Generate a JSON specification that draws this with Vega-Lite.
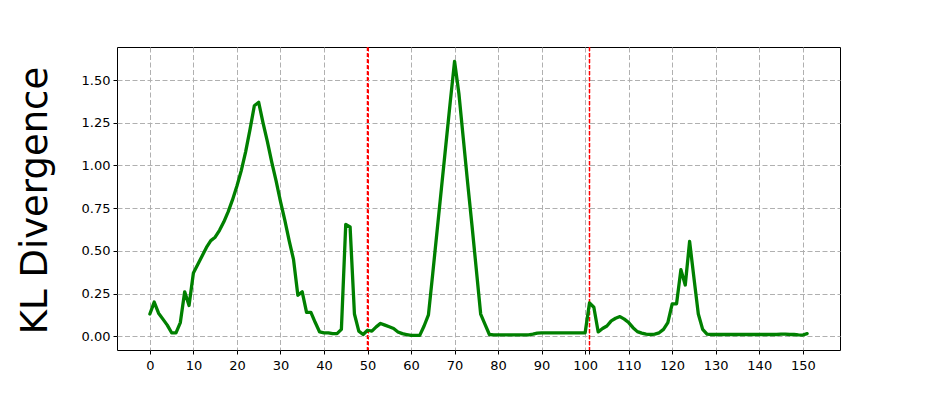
{
  "$schema": "https://vega.github.io/schema/vega-lite/v6.json",
  "width": 723,
  "height": 303,
  "autosize": {"type": "none"},
  "padding": {"left": 117, "top": 47, "right": 94, "bottom": 51},
  "background": "white",
  "config": {
    "view": {"stroke": "black", "strokeWidth": 1},
    "font": "DejaVu Sans",
    "axis": {
      "labelFont": "DejaVu Sans",
      "labelFontSize": 13,
      "labelColor": "black",
      "tickColor": "black",
      "tickSize": 4,
      "tickWidth": 1,
      "labelPadding": 3,
      "domain": false,
      "grid": true,
      "gridColor": "#b0b0b0",
      "gridDash": [5, 2.5],
      "gridWidth": 1
    }
  },
  "datasets": {
    "kl": [
      {"t": 0, "kl": 0.13}, {"t": 1, "kl": 0.2}, {"t": 2, "kl": 0.135}, {"t": 3, "kl": 0.1}, {"t": 4, "kl": 0.065},
      {"t": 5, "kl": 0.02}, {"t": 6, "kl": 0.02}, {"t": 7, "kl": 0.08}, {"t": 8, "kl": 0.26}, {"t": 9, "kl": 0.18},
      {"t": 10, "kl": 0.37}, {"t": 11, "kl": 0.42}, {"t": 12, "kl": 0.47}, {"t": 13, "kl": 0.52}, {"t": 14, "kl": 0.56},
      {"t": 15, "kl": 0.58}, {"t": 16, "kl": 0.62}, {"t": 17, "kl": 0.67}, {"t": 18, "kl": 0.73}, {"t": 19, "kl": 0.8},
      {"t": 20, "kl": 0.88}, {"t": 21, "kl": 0.97}, {"t": 22, "kl": 1.08}, {"t": 23, "kl": 1.21}, {"t": 24, "kl": 1.35},
      {"t": 25, "kl": 1.37}, {"t": 26, "kl": 1.25}, {"t": 27, "kl": 1.14}, {"t": 28, "kl": 1.02}, {"t": 29, "kl": 0.91},
      {"t": 30, "kl": 0.79}, {"t": 31, "kl": 0.68}, {"t": 32, "kl": 0.56}, {"t": 33, "kl": 0.45}, {"t": 34, "kl": 0.24},
      {"t": 35, "kl": 0.26}, {"t": 36, "kl": 0.14}, {"t": 37, "kl": 0.14}, {"t": 38, "kl": 0.08}, {"t": 39, "kl": 0.025},
      {"t": 40, "kl": 0.02}, {"t": 41, "kl": 0.02}, {"t": 42, "kl": 0.015}, {"t": 43, "kl": 0.015}, {"t": 44, "kl": 0.04},
      {"t": 45, "kl": 0.655}, {"t": 46, "kl": 0.64}, {"t": 47, "kl": 0.13}, {"t": 48, "kl": 0.03}, {"t": 49, "kl": 0.01},
      {"t": 50, "kl": 0.035}, {"t": 51, "kl": 0.03}, {"t": 52, "kl": 0.055}, {"t": 53, "kl": 0.075}, {"t": 54, "kl": 0.065},
      {"t": 55, "kl": 0.055}, {"t": 56, "kl": 0.045}, {"t": 57, "kl": 0.025}, {"t": 58, "kl": 0.015}, {"t": 59, "kl": 0.01},
      {"t": 60, "kl": 0.005}, {"t": 61, "kl": 0.005}, {"t": 62, "kl": 0.005}, {"t": 63, "kl": 0.06}, {"t": 64, "kl": 0.125},
      {"t": 65, "kl": 0.37}, {"t": 66, "kl": 0.62}, {"t": 67, "kl": 0.87}, {"t": 68, "kl": 1.12}, {"t": 69, "kl": 1.37},
      {"t": 70, "kl": 1.61}, {"t": 71, "kl": 1.42}, {"t": 72, "kl": 1.16}, {"t": 73, "kl": 0.9}, {"t": 74, "kl": 0.65},
      {"t": 75, "kl": 0.39}, {"t": 76, "kl": 0.13}, {"t": 77, "kl": 0.07}, {"t": 78, "kl": 0.01}, {"t": 79, "kl": 0.008},
      {"t": 80, "kl": 0.008}, {"t": 81, "kl": 0.008}, {"t": 82, "kl": 0.008}, {"t": 83, "kl": 0.008}, {"t": 84, "kl": 0.008},
      {"t": 85, "kl": 0.008}, {"t": 86, "kl": 0.008}, {"t": 87, "kl": 0.008}, {"t": 88, "kl": 0.012}, {"t": 89, "kl": 0.018},
      {"t": 90, "kl": 0.02}, {"t": 91, "kl": 0.02}, {"t": 92, "kl": 0.02}, {"t": 93, "kl": 0.02}, {"t": 94, "kl": 0.02},
      {"t": 95, "kl": 0.02}, {"t": 96, "kl": 0.02}, {"t": 97, "kl": 0.02}, {"t": 98, "kl": 0.02}, {"t": 99, "kl": 0.02},
      {"t": 100, "kl": 0.02}, {"t": 101, "kl": 0.195}, {"t": 102, "kl": 0.17}, {"t": 103, "kl": 0.025}, {"t": 104, "kl": 0.045},
      {"t": 105, "kl": 0.06}, {"t": 106, "kl": 0.09}, {"t": 107, "kl": 0.105}, {"t": 108, "kl": 0.115}, {"t": 109, "kl": 0.1},
      {"t": 110, "kl": 0.08}, {"t": 111, "kl": 0.05}, {"t": 112, "kl": 0.027}, {"t": 113, "kl": 0.018}, {"t": 114, "kl": 0.012},
      {"t": 115, "kl": 0.01}, {"t": 116, "kl": 0.012}, {"t": 117, "kl": 0.02}, {"t": 118, "kl": 0.04}, {"t": 119, "kl": 0.08},
      {"t": 120, "kl": 0.19}, {"t": 121, "kl": 0.19}, {"t": 122, "kl": 0.39}, {"t": 123, "kl": 0.3}, {"t": 124, "kl": 0.555},
      {"t": 125, "kl": 0.34}, {"t": 126, "kl": 0.13}, {"t": 127, "kl": 0.04}, {"t": 128, "kl": 0.012}, {"t": 129, "kl": 0.01},
      {"t": 130, "kl": 0.01}, {"t": 131, "kl": 0.01}, {"t": 132, "kl": 0.01}, {"t": 133, "kl": 0.01}, {"t": 134, "kl": 0.01},
      {"t": 135, "kl": 0.01}, {"t": 136, "kl": 0.01}, {"t": 137, "kl": 0.01}, {"t": 138, "kl": 0.01}, {"t": 139, "kl": 0.01},
      {"t": 140, "kl": 0.01}, {"t": 141, "kl": 0.01}, {"t": 142, "kl": 0.01}, {"t": 143, "kl": 0.01}, {"t": 144, "kl": 0.01},
      {"t": 145, "kl": 0.012}, {"t": 146, "kl": 0.012}, {"t": 147, "kl": 0.01}, {"t": 148, "kl": 0.01}, {"t": 149, "kl": 0.008},
      {"t": 150, "kl": 0.007}, {"t": 151, "kl": 0.015}
    ],
    "vlines": [{"t": 50}, {"t": 101}]
  },
  "layer": [
    {
      "data": {"name": "vlines"},
      "mark": {"type": "rule", "strokeWidth": 1.5, "strokeDash": [4, 2]},
      "encoding": {
        "x": {"field": "t", "type": "quantitative"},
        "color": {"value": "#ff0000"}
      }
    },
    {
      "data": {"name": "kl"},
      "mark": {"type": "line", "color": "#008000", "strokeWidth": 3.3, "strokeJoin": "round", "strokeCap": "round"},
      "encoding": {
        "x": {
          "field": "t", "type": "quantitative",
          "scale": {"domain": [-7.55, 158.55], "nice": false, "zero": false},
          "axis": {
            "title": null,
            "values": [0, 10, 20, 30, 40, 50, 60, 70, 80, 90, 100, 101, 110, 120, 130, 140, 150],
            "labelExpr": "datum.value == 101 ? '' : datum.label",
            "format": "d",
            "labelFlush": false,
            "labelOverlap": false,
            "labelPadding": 5,
            "gridColor": {"condition": {"test": "datum.value == 50 || datum.value == 101", "value": "#ff0000"}, "value": "#b0b0b0"},
            "gridDash": {"condition": {"test": "datum.value == 50 || datum.value == 101", "value": [4, 2]}, "value": [5, 2.5]}
          }
        },
        "y": {
          "field": "kl", "type": "quantitative",
          "scale": {"domain": [-0.0807, 1.694], "nice": false, "zero": false},
          "axis": {
            "title": "KL Divergence",
            "values": [0, 0.25, 0.5, 0.75, 1.0, 1.25, 1.5],
            "format": ".2f",
            "labelFlush": false,
            "labelOverlap": false,
            "titleFont": "DejaVu Sans",
            "titleFontSize": 37,
            "titleFontWeight": "normal",
            "titleColor": "black",
            "titleAngle": -90,
            "titleAlign": "center",
            "titleBaseline": "alphabetic",
            "titleX": -71,
            "titleY": 153
          }
        }
      }
    }
  ]
}
